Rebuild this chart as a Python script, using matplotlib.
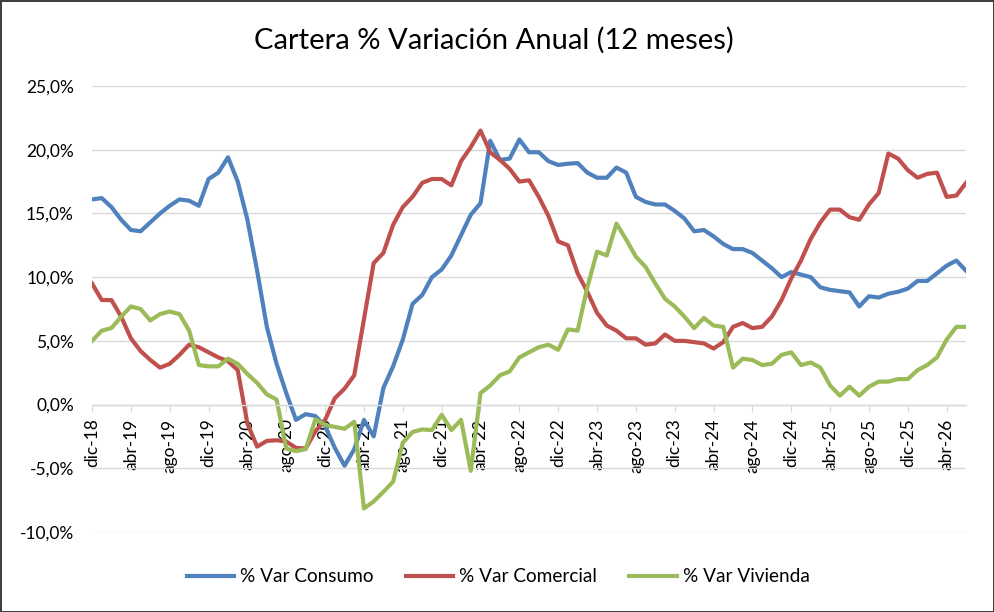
import matplotlib
matplotlib.use("Agg")
import matplotlib.pyplot as plt
from matplotlib.ticker import FuncFormatter

plt.rcParams['font.family'] = ['Lato', 'DejaVu Sans']

# monthly values, dic-18 .. jun-26 (91 months)
consumo = [16.1, 16.2, 15.5, 14.5, 13.7, 13.6, 14.3, 15.0, 15.6, 16.1,
           16.0, 15.6, 17.7, 18.2, 19.4, 17.5, 14.5, 10.5, 6.1, 3.2,
           0.9, -1.2, -0.75, -0.9, -1.7, -3.4, -4.8, -3.5, -1.2, -2.5,
           1.3, 3.0, 5.1, 7.9, 8.6, 10.0, 10.6, 11.7, 13.3, 14.9,
           15.8, 20.7, 19.2, 19.3, 20.8, 19.8, 19.8, 19.1, 18.8, 18.9,
           18.95, 18.2, 17.8, 17.8, 18.6, 18.2, 16.3, 15.9, 15.7, 15.7,
           15.2, 14.6, 13.6, 13.7, 13.2, 12.6, 12.2, 12.2, 11.9, 11.3,
           10.7, 10.0, 10.4, 10.2, 10.0, 9.2, 9.0, 8.9, 8.8, 7.7,
           8.5, 8.4, 8.7, 8.85, 9.1, 9.7, 9.7, 10.3, 10.9, 11.3,
           10.5]

comercial = [9.5, 8.2, 8.2, 6.9, 5.2, 4.2, 3.5, 2.9, 3.2, 3.9,
             4.7, 4.5, 4.1, 3.7, 3.4, 2.7, -1.5, -3.3, -2.85, -2.8,
             -2.9, -3.4, -3.45, -2.1, -1.2, 0.5, 1.25, 2.3, 6.7, 11.1,
             11.9, 14.1, 15.5, 16.3, 17.4, 17.7, 17.7, 17.2, 19.1, 20.2,
             21.5, 19.8, 19.2, 18.5, 17.5, 17.6, 16.3, 14.8, 12.8, 12.5,
             10.3, 8.85, 7.2, 6.2, 5.8, 5.2, 5.2, 4.7, 4.8, 5.5,
             5.0, 5.0, 4.9, 4.8, 4.4, 4.9, 6.1, 6.4, 6.0, 6.1,
             6.9, 8.2, 9.9, 11.3, 13.0, 14.3, 15.3, 15.3, 14.7, 14.5,
             15.7, 16.6, 19.7, 19.3, 18.4, 17.8, 18.1, 18.2, 16.3, 16.4,
             17.4]

vivienda = [5.0, 5.8, 6.0, 6.9, 7.7, 7.5, 6.6, 7.1, 7.3, 7.1,
            5.8, 3.1, 3.0, 3.0, 3.6, 3.2, 2.4, 1.7, 0.8, 0.4,
            -3.45, -3.65, -3.5, -1.15, -1.6, -1.75, -1.9, -1.35, -8.15, -7.6,
            -6.85, -6.05, -3.0, -2.15, -1.95, -2.0, -0.8, -2.0, -1.2, -5.2,
            0.9, 1.5, 2.3, 2.6, 3.7, 4.1, 4.5, 4.7, 4.3, 5.9,
            5.8, 9.2, 12.0, 11.7, 14.2, 12.95, 11.6, 10.8, 9.5, 8.3,
            7.7, 6.9, 6.0, 6.8, 6.2, 6.1, 2.9, 3.6, 3.5, 3.1,
            3.2, 3.9, 4.1, 3.1, 3.3, 2.9, 1.5, 0.7, 1.4, 0.7,
            1.4, 1.8, 1.8, 2.0, 2.0, 2.7, 3.1, 3.7, 5.1, 6.1,
            6.1]

tick_labels = ["dic-18", "abr-19", "ago-19", "dic-19", "abr-20", "ago-20",
               "dic-20", "abr-21", "ago-21", "dic-21", "abr-22", "ago-22",
               "dic-22", "abr-23", "ago-23", "dic-23", "abr-24", "ago-24",
               "dic-24", "abr-25", "ago-25", "dic-25", "abr-26"]

months = list(range(len(consumo)))

fig = plt.figure(figsize=(9.94, 6.12), dpi=100, edgecolor='#404040', linewidth=2)
ax = fig.add_axes([0.0926, 0.1307, 0.8793, 0.7288])

lw = 3.0
ax.plot(months, consumo, color='#4F81BD', lw=lw, label='% Var Consumo', solid_joinstyle='round')
ax.plot(months, comercial, color='#C0504D', lw=lw, label='% Var Comercial', solid_joinstyle='round')
ax.plot(months, vivienda, color='#9BBB59', lw=lw, label='% Var Vivienda', solid_joinstyle='round')

# spine position first, it resets the ticks
for s in ['left', 'right', 'top']:
    ax.spines[s].set_visible(False)
ax.spines['bottom'].set_position(('data', 0))
ax.spines['bottom'].set_color('#D9D9D9')
ax.spines['bottom'].set_linewidth(1)

ax.set_xlim(0, len(consumo) - 1)
ax.set_ylim(-10, 25)
ax.set_yticks(range(-10, 26, 5))
ax.yaxis.set_major_formatter(FuncFormatter(lambda v, p: f"{v:.1f}%".replace('.', ',')))
ax.grid(axis='y', color='#D9D9D9', lw=1)
ax.set_axisbelow(True)

ax.set_xticks(range(0, len(consumo), 4))
ax.set_xticklabels(tick_labels)

ax.tick_params(axis='x', direction='out', length=5, color='#D9D9D9', labelsize=12.5, pad=5,
               labelrotation=90)
ax.tick_params(axis='y', length=0, labelsize=12.5, pad=13)

fig.text(0.497, 1 - 40 / 612, 'Cartera % Variación Anual (12 meses)', ha='center', va='center',
         fontsize=21)

fig.legend(loc='center', bbox_to_anchor=(0.501, 1 - 577 / 612), ncol=3, frameon=False,
           fontsize=13.7, handlelength=2.5, handletextpad=0.3, columnspacing=1.7)

fig.savefig('out.png', dpi=100)
